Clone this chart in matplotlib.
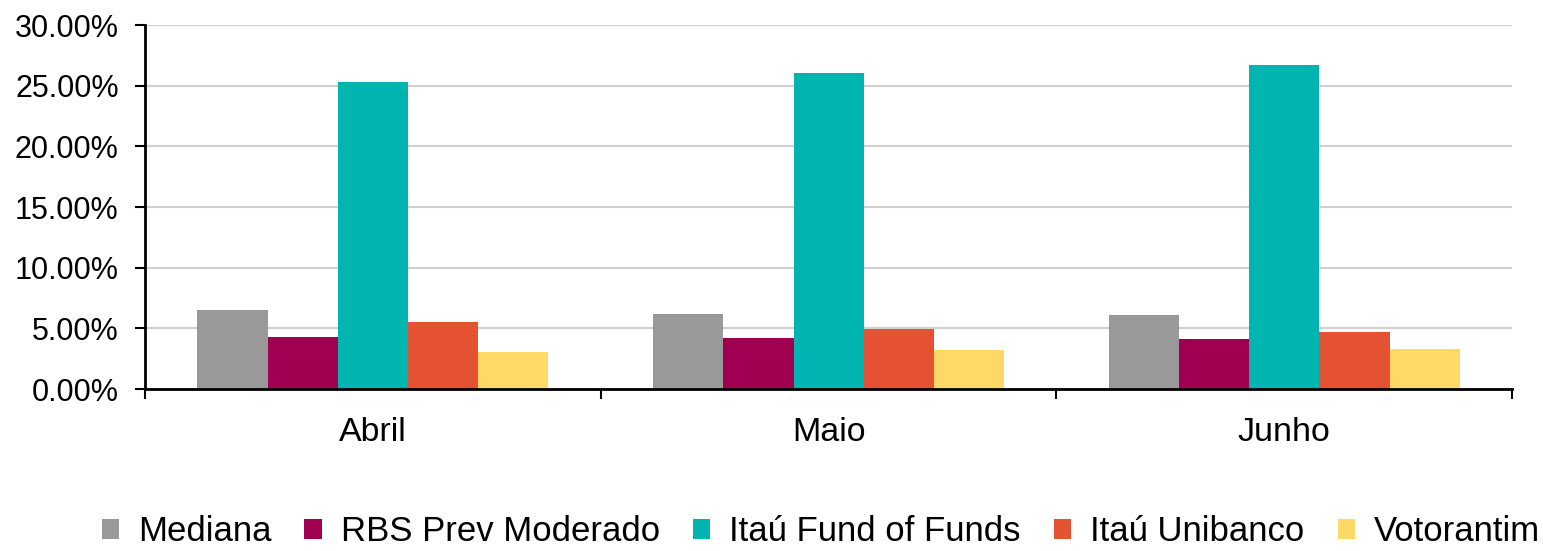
import numpy as np
import matplotlib.pyplot as plt
from matplotlib.ticker import FuncFormatter

plt.rcParams['font.family'] = ['Liberation Sans', 'DejaVu Sans']

months = ['Abril', 'Maio', 'Junho']
series = ['Mediana', 'RBS Prev Moderado', 'Itaú Fund of Funds', 'Itaú Unibanco', 'Votorantim']
mediana = [6.55, 6.22, 6.08]
rbs = [4.31, 4.23, 4.15]
itau_fof = [25.29, 26.02, 26.69]
itau_unibanco = [5.50, 4.92, 4.73]
votorantim = [3.01, 3.20, 3.26]
colors = ['#999999', '#A0004F', '#00B5AF', '#E45233', '#FFD966']

values = [mediana, rbs, itau_fof, itau_unibanco, votorantim]

fig = plt.figure(figsize=(15.43, 5.51), dpi=100)
ax = fig.add_axes([0.094, 0.294, 0.886, 0.6606])

x = np.arange(len(months))
w = 0.154
for i, (name, vals) in enumerate(zip(series, values)):
    ax.bar(x + (i - 2) * w, vals, w, color=colors[i], label=name, zorder=3)

ax.set_xlim(-0.5, len(months) - 0.5)
ax.set_ylim(0, 30)
ax.set_yticks(np.arange(0, 31, 5))
ax.yaxis.set_major_formatter(FuncFormatter(lambda v, p: f'{v:.2f}%'))
ax.grid(axis='y', color='#d0d0d0', linewidth=1.5, zorder=0)

ax.set_xticks(x)
ax.set_xticklabels(months)
ax.set_xticks(np.arange(-0.5, len(months)), minor=True)
ax.tick_params(axis='x', which='major', length=0, pad=20, labelsize=24.5)
ax.tick_params(axis='x', which='minor', length=7, width=1.5, direction='out')
ax.tick_params(axis='y', length=7, width=1.5, labelsize=22, pad=12)

for s in ['top', 'right']:
    ax.spines[s].set_visible(False)
for s in ['left', 'bottom']:
    ax.spines[s].set_linewidth(2)
ax.spines['left'].set_zorder(4)
ax.spines['bottom'].set_zorder(4)

fig.legend(loc='lower center', bbox_to_anchor=(0.532, -0.052), ncol=5, frameon=False,
           fontsize=25, handlelength=0.5, handleheight=0.5, handletextpad=0.55,
           columnspacing=0.95)

fig.savefig('out.png', dpi=100)
